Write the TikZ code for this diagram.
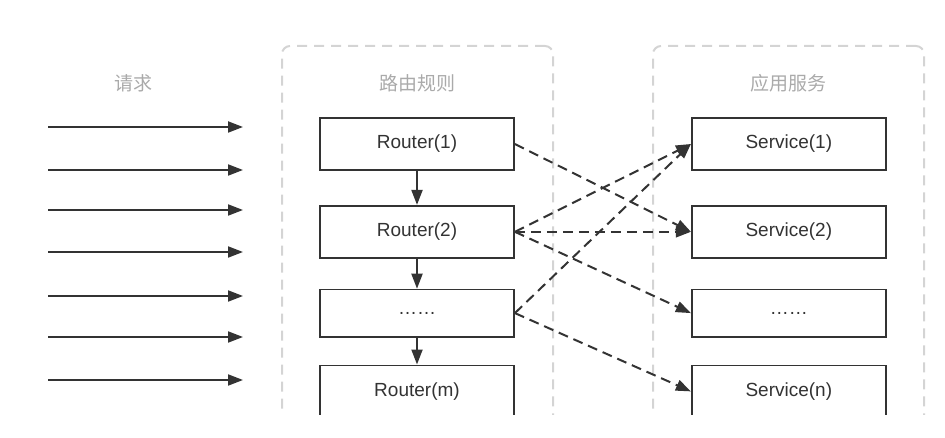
\documentclass[tikz,border=0pt]{standalone}
\usepackage{fontspec}
\setmainfont{Liberation Sans}
\newfontfamily\cjk{Noto Sans CJK SC}
\usetikzlibrary{arrows.meta,positioning}
\definecolor{ink}{RGB}{51,51,51}
\definecolor{frame}{RGB}{212,212,212}
\definecolor{caption}{RGB}{170,170,170}

\begin{document}
\begin{tikzpicture}[
    x=1pt, y=-1pt,
    every node/.style={font=\fontsize{19}{22}\selectfont, text=ink},
    group/.style={rectangle, draw=frame, line width=2pt, rounded corners=8pt, dash pattern=on 10pt off 7pt, minimum width=271pt, minimum height=420pt, anchor=north},
    title/.style={font=\cjk\fontsize{19}{22}\selectfont, text=caption},
    box/.style={rectangle, draw=ink, line width=1.8pt, fill=white, inner sep=0pt, minimum width=194pt, minimum height=#1},
    box/.default=52pt,
    arr/.style={-{Triangle[length=15pt, width=11pt]}, line width=2pt, draw=ink},
    darr/.style={arr, dash pattern=on 10pt off 6pt},
]
\useasboundingbox (0,0) rectangle (945,438);
\clip (0,0) rectangle (945,414);
% containers
\node[group] (rules) at (417.5,45) {};
\node[group] (apps) at (788.5,45) {};
\node[title] (treq) at (133,83) {请求};
\node[title] (trules) at (417.5,83) {路由规则};
\node[title] (tapps) at (788.5,83) {应用服务};
% routers
\node[box] (r1) at (417,144) {Router(1)};
\node[box, below=34pt of r1] (r2) {Router(2)};
\node[box=47pt, below=30pt of r2] (r3) {……};
\node[box, below=27pt of r3] (r4) {Router(m)};
% services
\node[box, right=176pt of r1] (s1) {Service(1)};
\node[box, right=176pt of r2] (s2) {Service(2)};
\node[box=47pt, right=176pt of r3] (s3) {……};
\node[box, right=176pt of r4] (s4) {Service(n)};
% requests
\foreach \y [count=\i] in {127,170,210,252,296,337,380} {
    \coordinate (in\i) at (48,\y);
    \coordinate (out\i) at (243,\y);
    \draw[arr] (in\i) -- (out\i);
}
\draw[arr] (r1) -- (r2);
\draw[arr] (r2) -- (r3);
\draw[arr] (r3) -- (r4);
% routing
\draw[darr] (r1.east) -- (s2.west);
\draw[darr] (r2.east) -- (s1.west);
\draw[darr] (r2.east) -- (s2.west);
\draw[darr] (r2.east) -- (s3.west);
\draw[darr] (r3.east) -- (s1.west);
\draw[darr] (r3.east) -- (s4.west);
\end{tikzpicture}
\end{document}
